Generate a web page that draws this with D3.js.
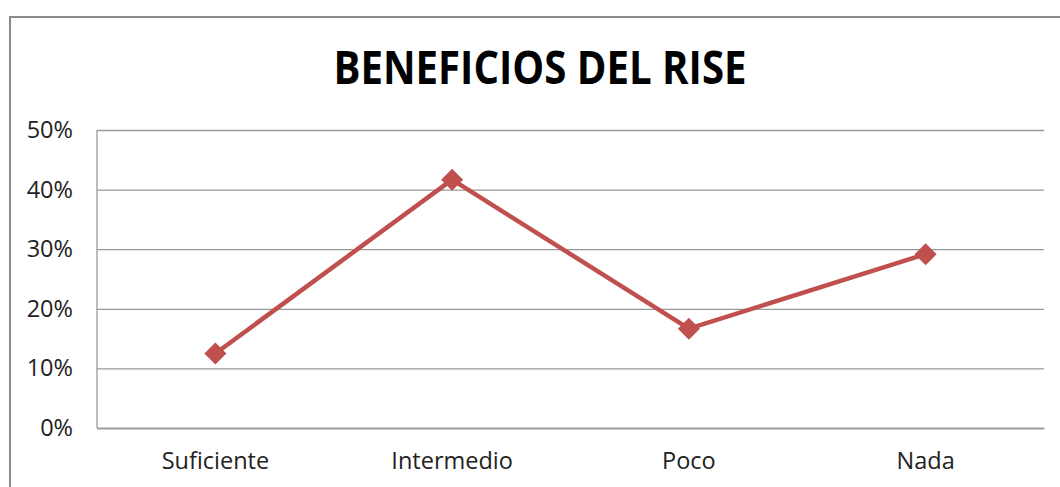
<!DOCTYPE html>
<html>
<head>
<meta charset="utf-8">
<script src="https://cdn.jsdelivr.net/npm/d3@7"></script>
<style>
  body { margin: 0; background: white; }
  #vis { width: 1060px; height: 487px; }
</style>
</head>
<body>
<div id="vis"></div>
<script>
// chart data
let categories = ['Suficiente', 'Intermedio', 'Poco', 'Nada'];
let values = [0.125, 0.4167, 0.1667, 0.2917];
let yTicks = [0, 0.1, 0.2, 0.3, 0.4, 0.5];
let title = 'BENEFICIOS DEL RISE';

let W = 1060, H = 487;
let margin = { top: 130, left: 97, right: 16, bottom: 59 };
let width = W - margin.left - margin.right,
  height = H - margin.top - margin.bottom;

let svg = d3.select('#vis')
  .append('svg')
  .attr('width', W)
  .attr('height', H)
  .style('font-family', '"Open Sans", sans-serif');

// outer chart border (runs off the right and bottom)
svg.append('rect')
  .attr('x', 10)
  .attr('y', 17)
  .attr('width', W + 20)
  .attr('height', H + 20)
  .attr('fill', 'white')
  .attr('stroke', '#8a8a8a')
  .attr('stroke-width', 2);

svg.append('text')
  .attr('x', 540)
  .attr('y', 84)
  .attr('text-anchor', 'middle')
  .attr('font-size', 46)
  .attr('font-weight', 'bold')
  .attr('textLength', 413)
  .attr('lengthAdjust', 'spacingAndGlyphs')
  .attr('fill', '#000')
  .text(title);

let g = svg.append('g')
  .attr('transform', `translate(${margin.left},${margin.top})`);

let x = d3.scaleBand().domain(categories).range([0, width]);
let y = d3.scaleLinear().domain([0, 0.5]).range([height, 0]);

// gridlines + y labels
let yAxis = g.append('g')
  .call(d3.axisLeft(y).tickValues(yTicks).tickFormat(d3.format('.0%')).tickSize(-width).tickPadding(24));
yAxis.select('.domain').remove();
yAxis.selectAll('.tick line').attr('stroke', '#999').attr('stroke-width', 1.3);
yAxis.selectAll('.tick text').attr('font-size', 23.5).attr('fill', '#222')
  .attr('font-family', '"Open Sans", sans-serif');

// vertical axis line
g.append('line')
  .attr('x1', 0).attr('x2', 0)
  .attr('y1', 0).attr('y2', height)
  .attr('stroke', '#999').attr('stroke-width', 1.3);

// x labels
let xAxis = g.append('g')
  .attr('transform', `translate(0,${height})`)
  .call(d3.axisBottom(x).tickSize(0).tickPadding(24));
xAxis.select('.domain').attr('stroke', '#999').attr('stroke-width', 1.3);
xAxis.selectAll('.tick text').attr('font-size', 23.5).attr('fill', '#222')
  .attr('font-family', '"Open Sans", sans-serif');

let cx = d => x(d) + x.bandwidth() / 2;

let line = d3.line()
  .x((d, i) => cx(categories[i]))
  .y(d => y(d));

g.append('path')
  .datum(values)
  .attr('d', line)
  .attr('fill', 'none')
  .attr('stroke', '#C0504D')
  .attr('stroke-width', 4.5)
  .attr('stroke-linejoin', 'round');

g.selectAll('.marker')
  .data(values)
  .join('path')
  .attr('class', 'marker')
  .attr('d', 'M0,-11L11,0L0,11L-11,0Z')
  .attr('transform', (d, i) => `translate(${cx(categories[i])},${y(d)})`)
  .attr('fill', '#C0504D');
</script>
</body>
</html>
